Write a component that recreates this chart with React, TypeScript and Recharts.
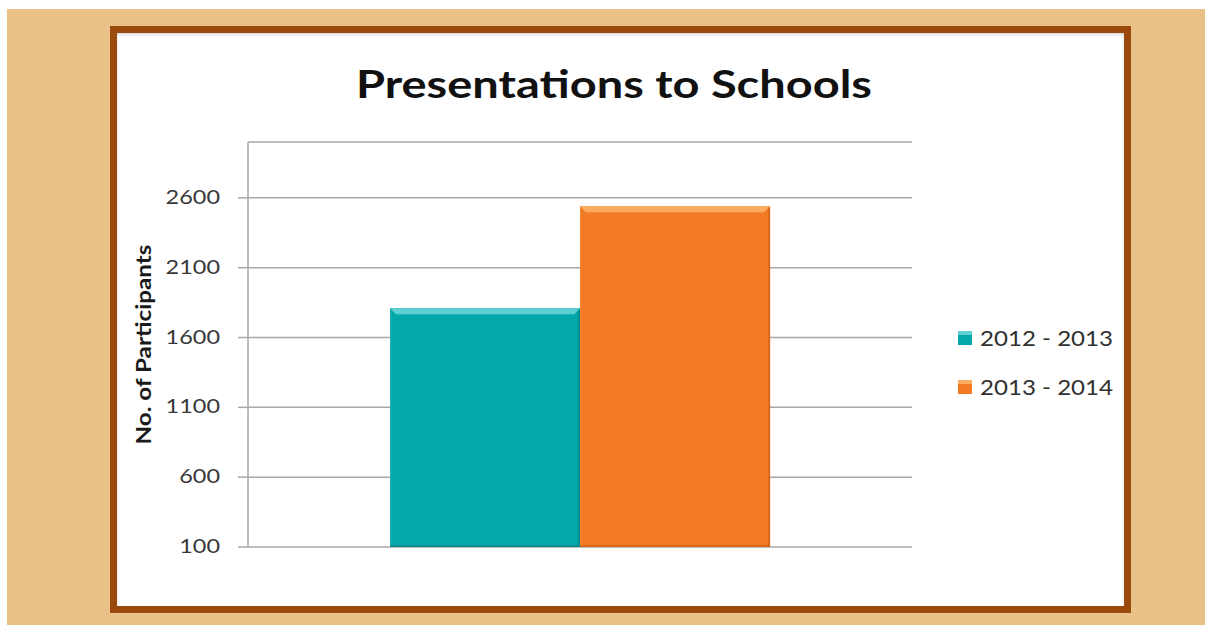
// Presentations to Schools – bar chart with framed card
import { BarChart, Bar, XAxis, YAxis, CartesianGrid, Legend } from "recharts";

const categories = ["Presentations"];
const values2012 = [1810];
const values2013 = [2540];
const seriesNames = ["2012 - 2013", "2013 - 2014"];
const yTicks = [100, 600, 1100, 1600, 2100, 2600];

const COLORS = {
  s1: "#05a8aa",
  s1Light: "#5fd0d2",
  s1Dark: "#037f82",
  s2: "#f47b25",
  s2Light: "#fbab62",
  s2Dark: "#c85f14",
};

const FONT = "Lato, 'Open Sans', sans-serif";

const data = categories.map((name, i) => ({
  name,
  s1: values2012[i],
  s2: values2013[i],
}));

// bevelled bar, like the Office look
const makeShape = (fill: string, light: string, dark: string) => (props: any) => {
  const { x, y, width, height } = props;
  if (!width || !height) return null;
  const b = 6;
  return (
    <g>
      <rect x={x} y={y} width={width} height={height} fill={fill} />
      <polygon
        points={`${x},${y} ${x + width},${y} ${x + width - b},${y + b} ${x + b},${y + b}`}
        fill={light}
      />
      <polygon
        points={`${x + width},${y} ${x + width},${y + height} ${x + width - 2},${y + height} ${x + width - 2},${y + 2}`}
        fill={dark}
        opacity={0.6}
      />
      <rect x={x} y={y + height - 2} width={width} height={2} fill={dark} opacity={0.6} />
    </g>
  );
};

const YTick = ({ x, y, payload }: any) => {
  const s = String(payload.value);
  return (
    <text
      x={x}
      y={y}
      dy={6}
      textAnchor="end"
      fontFamily={FONT}
      fontSize={19}
      fill="#383838"
      textLength={s.length * 13.6}
      lengthAdjust="spacingAndGlyphs"
    >
      {s}
    </text>
  );
};

const YLabel = ({ viewBox }: any) => {
  const cx = viewBox.x - 6;
  const cy = viewBox.y + viewBox.height / 2;
  return (
    <text
      x={cx}
      y={cy}
      transform={`rotate(-90, ${cx}, ${cy})`}
      textAnchor="middle"
      dominantBaseline="central"
      fontFamily={FONT}
      fontWeight="bold"
      fontSize={21}
      fill="#1a1a1a"
      textLength={200}
      lengthAdjust="spacingAndGlyphs"
    >
      No. of Participants
    </text>
  );
};

const CustomLegend = () => {
  const items = [
    { label: seriesNames[0], fill: COLORS.s1, light: COLORS.s1Light },
    { label: seriesNames[1], fill: COLORS.s2, light: COLORS.s2Light },
  ];
  return (
    <svg width={180} height={90}>
      {items.map((it, i) => {
        const cy = 18 + i * 49;
        return (
          <g key={it.label}>
            <rect x={3} y={cy - 7} width={14} height={14} fill={it.fill} />
            <rect x={3} y={cy - 7} width={14} height={4} fill={it.light} />
            <text
              x={25}
              y={cy}
              dy={8}
              fontFamily={FONT}
              fontSize={22}
              fill="#303030"
              textLength={133}
              lengthAdjust="spacingAndGlyphs"
            >
              {it.label}
            </text>
          </g>
        );
      })}
    </svg>
  );
};

export default function App() {
  return (
    <div style={{ position: "fixed", left: 0, top: 0, width: 1205, height: 625, background: "#fff", overflow: "hidden" }}>
      <style>{`html, body { margin: 0; padding: 0; overflow: hidden; }`}</style>
      <div style={{ position: "absolute", left: 7, top: 9, right: 0, bottom: 0, background: "#ebc18a" }} />
      <div
        style={{
          position: "absolute",
          left: 110,
          top: 26,
          width: 1021,
          height: 587,
          boxSizing: "border-box",
          border: "7px solid #9a4a0c",
          background: "#fff",
          boxShadow: "inset 0 2px 3px rgba(0,0,0,0.15)",
        }}
      />
      <svg style={{ position: "absolute", left: 0, top: 0 }} width={1205} height={140}>
        <text
          x={614}
          y={98}
          textAnchor="middle"
          fontFamily={FONT}
          fontWeight="bold"
          fontSize={39}
          fill="#111"
          textLength={516}
          lengthAdjust="spacingAndGlyphs"
        >
          Presentations to Schools
        </text>
      </svg>
      <div style={{ position: "absolute", left: 0, top: 0 }}>
        <BarChart
          width={1205}
          height={625}
          data={data}
          margin={{ top: 142, right: 293, bottom: 78, left: 148 }}
          barCategoryGap="21.4%"
          barGap={0}
        >
          <CartesianGrid vertical={false} stroke="#a8a8a8" strokeWidth={1.5} />
          <XAxis dataKey="name" hide />
          <YAxis
            width={100}
            domain={[100, 3000]}
            ticks={yTicks}
            interval={0}
            axisLine={{ stroke: "#a8a8a8", strokeWidth: 1.5 }}
            tickLine={{ stroke: "#a8a8a8", strokeWidth: 1.5 }}
            tickSize={10}
            tickMargin={18}
            tick={<YTick />}
            label={<YLabel />}
          />
          <Legend
            layout="vertical"
            verticalAlign="middle"
            align="center"
            wrapperStyle={{ position: "absolute", left: 955, top: 320, width: 180 }}
            content={<CustomLegend />}
          />
          <Bar
            dataKey="s1"
            name={seriesNames[0]}
            fill={COLORS.s1}
            isAnimationActive={false}
            shape={makeShape(COLORS.s1, COLORS.s1Light, COLORS.s1Dark)}
          />
          <Bar
            dataKey="s2"
            name={seriesNames[1]}
            fill={COLORS.s2}
            isAnimationActive={false}
            shape={makeShape(COLORS.s2, COLORS.s2Light, COLORS.s2Dark)}
          />
        </BarChart>
      </div>
    </div>
  );
}
